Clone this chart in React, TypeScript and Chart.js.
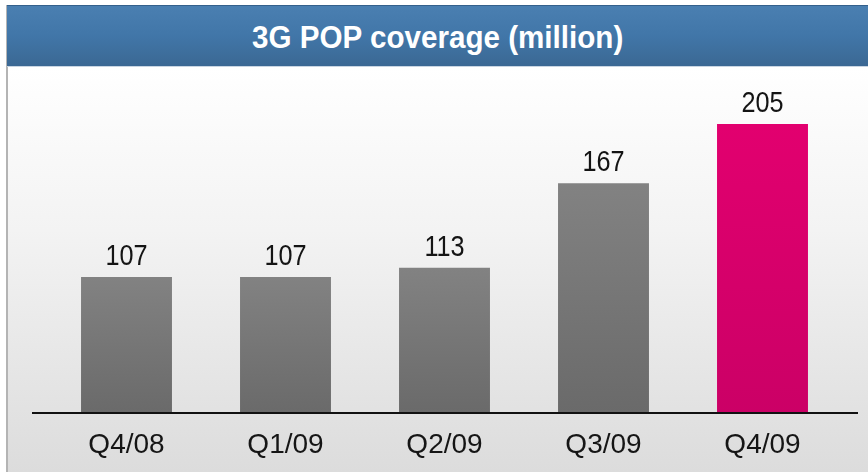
import React, { useEffect, useRef } from "react";
import { Chart, registerables } from "chart.js";

Chart.register(...registerables);

const categories = ["Q4/08", "Q1/09", "Q2/09", "Q3/09", "Q4/09"];
const coverage = [107, 107, 113, 167, 205];
const highlightIndex = 4;
const titleText = "3G POP coverage (million)";

const SANS = '"Liberation Sans", Arial, sans-serif';

export default function App() {
  const canvasRef = useRef<HTMLCanvasElement | null>(null);

  useEffect(() => {
    const canvas = canvasRef.current;
    if (!canvas) return;

    const barColor = (ctx: any) => {
      const chart = ctx.chart;
      const area = chart.chartArea;
      const yScale = chart.scales?.y;
      if (!area || !yScale || ctx.raw == null) return "#777777";
      const top = yScale.getPixelForValue(ctx.raw);
      const g = chart.ctx.createLinearGradient(0, top, 0, area.bottom);
      if (ctx.dataIndex === highlightIndex) {
        g.addColorStop(0, "#e2006f");
        g.addColorStop(1, "#cb0066");
      } else {
        g.addColorStop(0, "#828282");
        g.addColorStop(1, "#6a6a6a");
      }
      return g;
    };

    const labelPlugin = {
      id: "valueLabels",
      afterDatasetsDraw(chart: any) {
        const { ctx, chartArea } = chart;
        ctx.save();
        ctx.strokeStyle = "#111111";
        ctx.lineWidth = 2;
        ctx.beginPath();
        ctx.moveTo(chartArea.left - 15, chartArea.bottom);
        ctx.lineTo(chartArea.right + 16, chartArea.bottom);
        ctx.stroke();
        const meta = chart.getDatasetMeta(0);
        ctx.fillStyle = "#141414";
        ctx.font = `29px ${SANS}`;
        ctx.textAlign = "center";
        ctx.textBaseline = "alphabetic";
        meta.data.forEach((bar: any, i: number) => {
          ctx.save();
          ctx.translate(bar.x, bar.y - 12);
          ctx.scale(0.87, 1);
          ctx.fillText(String(coverage[i]), 0, 0);
          ctx.restore();
        });
        ctx.restore();
      },
    };

    const chart = new Chart(canvas, {
      type: "bar",
      data: {
        labels: categories,
        datasets: [
          {
            data: coverage,
            backgroundColor: barColor,
            borderWidth: 0,
            categoryPercentage: 1,
            barPercentage: 0.572,
          },
        ],
      },
      options: {
        animation: false,
        responsive: false,
        maintainAspectRatio: false,
        layout: { padding: { left: 47, right: 26, top: 88, bottom: 13 } },
        plugins: {
          legend: { display: false },
          tooltip: { enabled: false },
          title: { display: false },
        },
        scales: {
          x: {
            grid: { display: false, drawTicks: false },
            border: { display: false },
            ticks: {
              color: "#151515",
              padding: 15,
              font: { family: SANS, size: 28 },
            },
            afterFit: (scale: any) => {
              scale.height = 46;
            },
          },
          y: {
            display: false,
            min: 20,
            max: 228,
          },
        },
      },
      plugins: [labelPlugin],
    });

    return () => chart.destroy();
  }, []);

  return (
    <div
      style={{
        position: "absolute",
        left: 0,
        top: 0,
        width: 868,
        height: 472,
        overflow: "hidden",
        background: "#ffffff",
      }}
    >
      <div
        style={{
          position: "absolute",
          left: 8,
          top: 68,
          width: 860,
          height: 404,
          background: "linear-gradient(to bottom, #ffffff 0%, #f3f3f3 40%, #dcdcdc 100%)",
        }}
      />
      <div
        style={{
          position: "absolute",
          left: 6,
          top: 5,
          width: 2,
          height: 467,
          background: "#b4b4b4",
        }}
      />
      <div
        style={{
          position: "absolute",
          left: 7,
          top: 5,
          width: 861,
          height: 62,
          borderTop: "1px solid #34608c",
          boxSizing: "border-box",
          background: "linear-gradient(to bottom, #4a7fb1 0%, #4176a8 50%, #3b6893 100%)",
          borderBottom: "1px solid #c9d5e2",
          display: "flex",
          alignItems: "center",
          justifyContent: "center",
        }}
      >
        <span
          style={{
            color: "#ffffff",
            fontFamily: SANS,
            fontWeight: "bold",
            fontSize: 32,
            display: "inline-block",
            transform: "scaleX(0.925)",
            whiteSpace: "nowrap",
            marginTop: 2,
          }}
        >
          {titleText}
        </span>
      </div>
      <canvas
        ref={canvasRef}
        width={868}
        height={472}
        style={{ position: "absolute", left: 0, top: 0, width: 868, height: 472 }}
      />
    </div>
  );
}
